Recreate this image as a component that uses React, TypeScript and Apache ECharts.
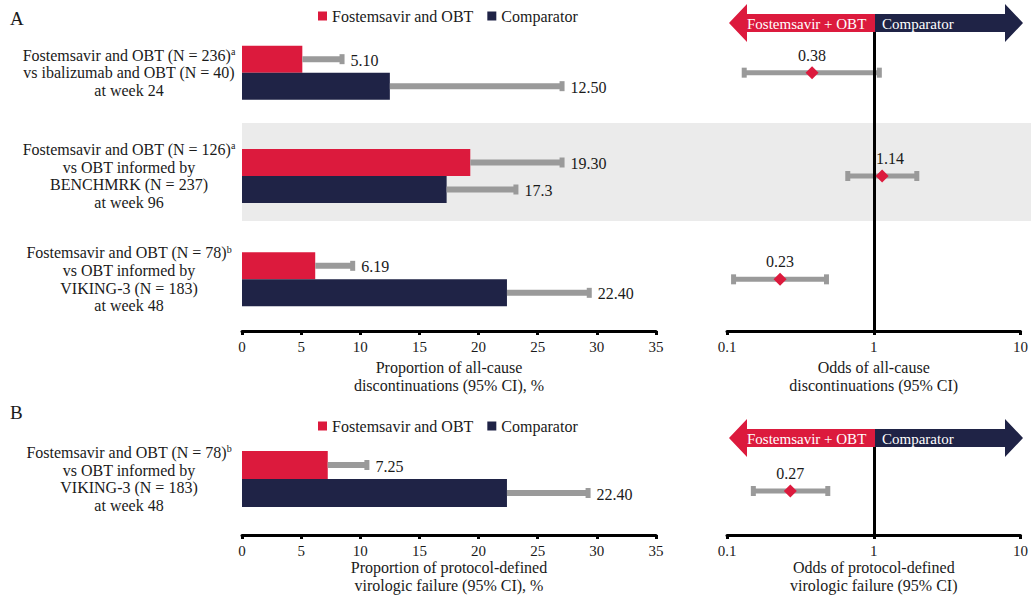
import React, { useEffect, useRef } from 'react';
import * as echarts from 'echarts';

const RED = '#DC1A3D';
const NAVY = '#1F2346';
const GRAY = '#9A9A9A';
const BAND = '#EBEBEB';
const TXT = '#1a1a1a';
const FONT = '"Liberation Serif", "Times New Roman", serif';

const armNames = ['Fostemsavir and OBT', 'Comparator'];
const arrowTexts = ['Fostemsavir + OBT', 'Comparator'];

const categoriesA = [
  'Fostemsavir and OBT (N = 236){sup|a}\nvs ibalizumab and OBT (N = 40)\nat week 24',
  'Fostemsavir and OBT (N = 126){sup|a}\nvs OBT informed by\nBENCHMRK (N = 237)\nat week 96',
  'Fostemsavir and OBT (N = 78){sup|b}\nvs OBT informed by\nVIKING-3 (N = 183)\nat week 48',
];
const categoriesB = [
  'Fostemsavir and OBT (N = 78){sup|b}\nvs OBT informed by\nVIKING-3 (N = 183)\nat week 48',
];

// Panel A – proportions
const fosValuesA = [5.1, 19.3, 6.19];
const fosUpperA = [8.5, 27.1, 9.4];
const fosLabelsA = ['5.10', '19.30', '6.19'];
const compValuesA = [12.5, 17.3, 22.4];
const compUpperA = [27.1, 23.2, 29.4];
const compLabelsA = ['12.50', '17.3', '22.40'];

// Panel A – odds
const oddsA = [0.38, 1.14, 0.23];
const oddsLowA = [0.13, 0.66, 0.11];
const oddsHighA = [1.1, 1.98, 0.48];
const oddsLabelsA = ['0.38', '1.14', '0.23'];

// Panel B – proportions
const fosValuesB = [7.25];
const fosUpperB = [10.6];
const fosLabelsB = ['7.25'];
const compValuesB = [22.4];
const compUpperB = [29.3];
const compLabelsB = ['22.40'];

// Panel B – odds
const oddsB = [0.27];
const oddsLowB = [0.15];
const oddsHighB = [0.49];
const oddsLabelsB = ['0.27'];

const propMin = 0;
const propMax = 35;
const propInterval = 5;
const oddsMin = 0.1;
const oddsMax = 10;
const oddsRef = 1;

const titlePropA = 'Proportion of all-cause\ndiscontinuations (95% CI), %';
const titleOddsA = 'Odds of all-cause\ndiscontinuations (95% CI)';
const titlePropB = 'Proportion of protocol-defined\nvirologic failure (95% CI), %';
const titleOddsB = 'Odds of protocol-defined\nvirologic failure (95% CI)';

// layout
const L0 = 242, LW = 414;
const R0 = 727, RW = 296;
const gA = { top: 21, height: 310 };
const gBL = { top: 423, height: 112 };
const gBR = { top: 447, height: 88 };
const BAR_A = 27;
const BAR_B = 28;

function valueAxis(gridIndex: number, name: string) {
  return {
    type: 'value', gridIndex, min: propMin, max: propMax, interval: propInterval,
    axisLine: { show: true, lineStyle: { color: '#000', width: 3 } },
    axisTick: { show: true, length: 4, lineStyle: { color: '#000', width: 3 } },
    splitLine: { show: false },
    axisLabel: { fontSize: 15, color: TXT, fontFamily: FONT, margin: 8 },
    name, nameLocation: 'middle', nameGap: 23,
    nameTextStyle: { fontSize: 16, lineHeight: 18, color: TXT, fontFamily: FONT },
  };
}
function logAxis(gridIndex: number, name: string) {
  return {
    type: 'log', logBase: 10, gridIndex, min: oddsMin, max: oddsMax,
    axisLine: { show: true, lineStyle: { color: '#000', width: 3 } },
    axisTick: { show: true, length: 4, lineStyle: { color: '#000', width: 3 } },
    minorTick: { show: false },
    splitLine: { show: false },
    axisLabel: { fontSize: 15, color: TXT, fontFamily: FONT, margin: 8, formatter: (v: number) => String(v) },
    name, nameLocation: 'middle', nameGap: 23,
    nameTextStyle: { fontSize: 16, lineHeight: 18, color: TXT, fontFamily: FONT },
  };
}
function catAxis(gridIndex: number, data: string[], showLabels: boolean) {
  return {
    type: 'category', gridIndex, data, inverse: true,
    axisLine: { show: false }, axisTick: { show: false }, splitLine: { show: false },
    axisLabel: {
      show: showLabels, align: 'center', margin: 113, fontSize: 16, lineHeight: 17.6,
      color: TXT, fontFamily: FONT,
      rich: { sup: { fontSize: 10, lineHeight: 17.6, verticalAlign: 'top', color: TXT, fontFamily: FONT } },
    },
  };
}

function barSeries(name: string, data: number[], color: string, axis: number, width: number) {
  return {
    type: 'bar', name, data, xAxisIndex: axis, yAxisIndex: axis, barWidth: width, barGap: '0%',
    itemStyle: { color }, z: 2,
  };
}

function upperErr(values: number[], uppers: number[], labels: string[], side: number, axis: number, width: number) {
  return {
    type: 'custom', xAxisIndex: axis, yAxisIndex: axis, z: 3, clip: false, silent: true,
    data: values.map((v, i) => [v, uppers[i], i]),
    encode: { x: [0, 1], y: 2 },
    renderItem: (params: any, api: any) => {
      const s = api.coord([api.value(0), api.value(2)]);
      const e = api.coord([api.value(1), api.value(2)]);
      const y = s[1] + side * width / 2;
      return {
        type: 'group',
        children: [
          { type: 'line', shape: { x1: s[0], y1: y, x2: e[0], y2: y }, style: { stroke: GRAY, lineWidth: 6 } },
          { type: 'rect', shape: { x: e[0] - 3, y: y - 5, width: 5, height: 10 }, style: { fill: GRAY } },
          {
            type: 'text', x: e[0] + 8, y: y + 1,
            style: { text: labels[params.dataIndex], fill: TXT, fontSize: 16, fontFamily: FONT, verticalAlign: 'middle', align: 'left' },
          },
        ],
      };
    },
  };
}

function ciSeries(lows: number[], highs: number[], axis: number) {
  return {
    type: 'custom', xAxisIndex: axis, yAxisIndex: axis, z: 2, clip: false, silent: true,
    data: lows.map((l, i) => [l, highs[i], i]),
    encode: { x: [0, 1], y: 2 },
    renderItem: (params: any, api: any) => {
      const a = api.coord([api.value(0), api.value(2)]);
      const b = api.coord([api.value(1), api.value(2)]);
      const y = a[1];
      return {
        type: 'group',
        children: [
          { type: 'line', shape: { x1: a[0], y1: y, x2: b[0], y2: y }, style: { stroke: GRAY, lineWidth: 5 } },
          { type: 'rect', shape: { x: a[0] - 2, y: y - 5, width: 5, height: 10 }, style: { fill: GRAY } },
          { type: 'rect', shape: { x: b[0] - 3, y: y - 5, width: 5, height: 10 }, style: { fill: GRAY } },
        ],
      };
    },
  };
}

function pointSeries(vals: number[], labels: string[], axis: number) {
  return {
    type: 'scatter', xAxisIndex: axis, yAxisIndex: axis, z: 5, silent: true,
    data: vals.map((v, i) => {
      // keep the value label clear of the reference line when the estimate sits on it
      const nearRef = Math.abs(Math.log10(v / oddsRef)) < 0.1;
      return nearRef
        ? { value: [v, i], label: { align: 'left', offset: [-6, 0] } }
        : { value: [v, i] };
    }),
    symbol: 'diamond', symbolSize: 13,
    itemStyle: { color: RED, opacity: 1 },
    label: {
      show: true, position: 'top', distance: 3, color: TXT, fontSize: 16, fontFamily: FONT, opacity: 1,
      formatter: (p: any) => labels[p.dataIndex],
    },
    markLine: {
      silent: true, symbol: ['none', 'none'], label: { show: false },
      lineStyle: { color: '#000', width: 3, type: 'solid', opacity: 1 },
      data: [{ xAxis: oddsRef }],
    },
  };
}

function arrowGraphics(yc: number) {
  const tipL = R0 + 2, bodyL = R0 + 20, mid = R0 + RW / 2, bodyR = R0 + RW - 18, tipR = R0 + RW;
  const bh = 9, hh = 19;
  return [
    {
      type: 'polygon', z: 100,
      shape: { points: [[bodyL, yc - bh], [mid, yc - bh], [mid, yc + bh], [bodyL, yc + bh], [bodyL, yc + hh], [tipL, yc], [bodyL, yc - hh]] },
      style: { fill: RED },
    },
    {
      type: 'polygon', z: 100,
      shape: { points: [[mid, yc - bh], [bodyR, yc - bh], [bodyR, yc - hh], [tipR, yc], [bodyR, yc + hh], [bodyR, yc + bh], [mid, yc + bh]] },
      style: { fill: NAVY },
    },
    { type: 'text', z: 101, x: bodyL, y: yc + 1, style: { text: arrowTexts[0], fill: '#fff', fontSize: 15, fontFamily: FONT, verticalAlign: 'middle' } },
    { type: 'text', z: 101, x: mid + 7, y: yc + 1, style: { text: arrowTexts[1], fill: '#fff', fontSize: 15, fontFamily: FONT, verticalAlign: 'middle' } },
  ];
}

function legend(top: number) {
  return {
    data: armNames, left: 313, top, icon: 'rect', itemWidth: 9, itemHeight: 9, itemGap: 14,
    textStyle: { fontSize: 16, color: TXT, fontFamily: FONT }, selectedMode: false,
  };
}

export default function App() {
  const ref = useRef<HTMLDivElement>(null);
  useEffect(() => {
    if (!ref.current) return;
    const chart = echarts.init(ref.current, undefined, { renderer: 'svg' });
    const option: any = {
      animation: false,
      backgroundColor: '#fff',
      legend: [legend(3), legend(413)],
      grid: [
        { left: L0, width: LW, top: gA.top, height: gA.height },
        { left: R0, width: RW, top: gA.top, height: gA.height },
        { left: L0, width: LW, top: gBL.top, height: gBL.height },
        { left: R0, width: RW, top: gBR.top, height: gBR.height },
      ],
      xAxis: [valueAxis(0, titlePropA), logAxis(1, titleOddsA), valueAxis(2, titlePropB), logAxis(3, titleOddsB)],
      yAxis: [catAxis(0, categoriesA, true), catAxis(1, categoriesA, false), catAxis(2, categoriesB, true), catAxis(3, categoriesB, false)],
      series: [
        barSeries(armNames[0], fosValuesA, RED, 0, BAR_A),
        barSeries(armNames[1], compValuesA, NAVY, 0, BAR_A),
        upperErr(fosValuesA, fosUpperA, fosLabelsA, -1, 0, BAR_A),
        upperErr(compValuesA, compUpperA, compLabelsA, 1, 0, BAR_A),
        ciSeries(oddsLowA, oddsHighA, 1),
        pointSeries(oddsA, oddsLabelsA, 1),
        barSeries(armNames[0], fosValuesB, RED, 2, BAR_B),
        barSeries(armNames[1], compValuesB, NAVY, 2, BAR_B),
        upperErr(fosValuesB, fosUpperB, fosLabelsB, -1, 2, BAR_B),
        upperErr(compValuesB, compUpperB, compLabelsB, 1, 2, BAR_B),
        ciSeries(oddsLowB, oddsHighB, 3),
        pointSeries(oddsB, oddsLabelsB, 3),
      ],
      graphic: [
        { type: 'rect', z: -10, shape: { x: L0, y: 123, width: 1031 - L0, height: 98 }, style: { fill: BAND } },
        { type: 'text', x: 10, y: 9, style: { text: 'A', fill: TXT, fontSize: 19, fontFamily: FONT } },
        { type: 'text', x: 10, y: 403, style: { text: 'B', fill: TXT, fontSize: 19, fontFamily: FONT } },
        ...arrowGraphics(23),
        ...arrowGraphics(438),
      ],
    };
    chart.setOption(option);
    return () => chart.dispose();
  }, []);
  return <div ref={ref} style={{ position: 'fixed', left: 0, top: 0, width: 1031, height: 601, background: '#fff' }} />;
}
